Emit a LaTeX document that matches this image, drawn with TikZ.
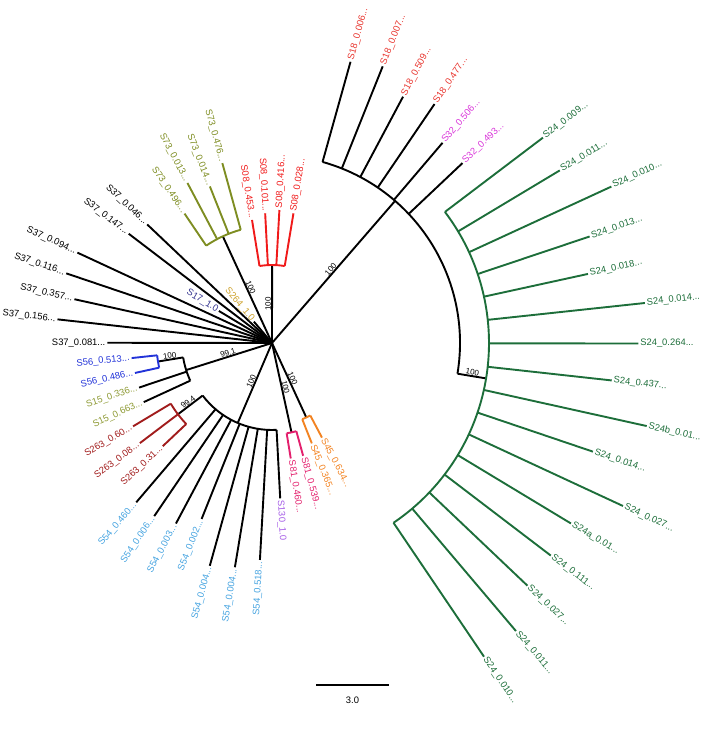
\documentclass[tikz,border=0pt]{standalone}
\usepackage{fontspec}
\setmainfont{Liberation Sans}
\definecolor{s18col}{HTML}{E8352E}
\definecolor{s08col}{HTML}{F01A1A}
\definecolor{s32col}{HTML}{D936D9}
\definecolor{s24col}{HTML}{1D6E3A}
\definecolor{s45col}{HTML}{F28322}
\definecolor{s81col}{HTML}{E3206D}
\definecolor{s130col}{HTML}{A45BE6}
\definecolor{s54col}{HTML}{45A3E0}
\definecolor{s263col}{HTML}{A11C1C}
\definecolor{s15col}{HTML}{8E9A35}
\definecolor{s56col}{HTML}{2233D8}
\definecolor{s17col}{HTML}{34348F}
\definecolor{s264col}{HTML}{CDA12A}
\definecolor{s73col}{HTML}{7E8D22}

\tikzset{
  branch/.style={line width=1.9pt},
  tiplab/.style={font=\fontsize{9.4}{11}\selectfont, inner sep=1.8pt},
  supplab/.style={font=\fontsize{8}{9.5}\selectfont, inner sep=0.8pt, anchor=south},
}

\newcommand{\trunc}{...}
% angle of the k-th leaf, 58 leaves round the circle
\newcommand{\angof}[2]{\pgfmathsetmacro{#1}{74.4-6.2069*#2}}

% leaf: index, base radius, tip radius, line colour, label colour, text
\newcommand{\treetip}[6]{%
  \pgfmathsetmacro{\tipang}{74.4-6.2069*#1}%
  \coordinate (b#1) at (\tipang:#2);
  \coordinate (t#1) at (\tipang:#3);
  \draw[branch, #4] (b#1) -- (t#1);
  \pgfmathsetmacro{\tipcos}{cos(\tipang)}%
  \ifdim\tipcos pt<0pt
    \node[tiplab, text=#5, anchor=east, rotate=\tipang+180] (lab#1) at (t#1) {#6};
  \else
    \node[tiplab, text=#5, anchor=west, rotate=\tipang] (lab#1) at (t#1) {#6};
  \fi
}

% support value: name, angle, radius, text
\newcommand{\supportlab}[4]{%
  \pgfmathsetmacro{\supcos}{cos(#2)}%
  \ifdim\supcos pt<0pt
    \node[supplab, rotate=#2+180] (#1) at (#2:#3) {#4};
  \else
    \node[supplab, rotate=#2] (#1) at (#2:#3) {#4};
  \fi
}

\begin{document}
\begin{tikzpicture}[x=1pt, y=1pt]
\useasboundingbox (-272,-388) rectangle (436,343);
\coordinate (root) at (0,0);

% --- Right clade: S18, S32, S24 ---
\coordinate (nR) at (49.1:188);
\draw[branch] (root) -- (nR);
\supportlab{sR}{49.1}{94}{100}
\angof\arcA{0}\angof\arcB{13.5}
\draw[branch] (\arcA:188) arc[start angle=\arcA, end angle=\arcB, radius=188pt];
\foreach \k/\r/\txt in {0/292/S18\_0.006\trunc, 1/298/S18\_0.007\trunc,
    2/279/S18\_0.509\trunc, 3/289/S18\_0.477\trunc}
  {\treetip{\k}{188}{\r}{black}{s18col}{\txt}}
\foreach \k/\r/\txt in {4/263/S32\_0.506\trunc, 5/262/S32\_0.493\trunc}
  {\treetip{\k}{188}{\r}{black}{s32col}{\txt}}

% S24 clade
\angof\nodeang{13.5}
\coordinate (nS24base) at (\nodeang:188);
\coordinate (nS24) at (\nodeang:217);
\draw[branch] (nS24base) -- (nS24);
\supportlab{sS24}{\nodeang}{202.5}{100}
\angof\arcA{6}\angof\arcB{21}
\draw[branch, s24col] (\arcA:217) arc[start angle=\arcA, end angle=\arcB, radius=217pt];
\foreach \k/\r/\txt in {6/340/S24\_0.009\trunc, 7/335.6/S24\_0.011\trunc,
    8/373.7/S24\_0.010\trunc, 9/335/S24\_0.013\trunc, 10/323.5/S24\_0.018\trunc,
    11/375/S24\_0.014\trunc, 12/366.3/S24\_0.264\trunc, 13/341.8/S24\_0.437\trunc,
    14/383.8/S24b\_0.01\trunc, 15/338.8/S24\_0.014\trunc, 16/387/S24\_0.027\trunc,
    17/349.2/S24a\_0.01\trunc, 18/350.6/S24\_0.111\trunc, 19/352.3/S24\_0.027\trunc,
    20/377.5/S24\_0.011\trunc, 21/378.6/S24\_0.010\trunc}
  {\treetip{\k}{217}{\r}{s24col}{s24col}{\txt}}

% --- S45 ---
\angof\nodeang{22.5}
\coordinate (nS45) at (\nodeang:82);
\draw[branch] (root) -- (nS45);
\supportlab{sS45}{\nodeang}{41}{100}
\angof\arcA{22}\angof\arcB{23}
\draw[branch, s45col] (\arcA:82) arc[start angle=\arcA, end angle=\arcB, radius=82pt];
\foreach \k/\r/\txt in {22/107/S45\_0.634\trunc, 23/108/S45\_0.365\trunc}
  {\treetip{\k}{82}{\r}{s45col}{s45col}{\txt}}

% --- S81 ---
\angof\nodeang{24.5}
\coordinate (nS81) at (\nodeang:91.5);
\draw[branch] (root) -- (nS81);
\supportlab{sS81}{\nodeang}{46}{100}
\angof\arcA{24}\angof\arcB{25}
\draw[branch, s81col] (\arcA:91.5) arc[start angle=\arcA, end angle=\arcB, radius=91.5pt];
\foreach \k/\r/\txt in {24/117/S81\_0.539\trunc, 25/117/S81\_0.460\trunc}
  {\treetip{\k}{91.5}{\r}{s81col}{s81col}{\txt}}

% --- S130, S54, S263 ---
\coordinate (nS54) at (-113.2:87);
\draw[branch] (root) -- (nS54);
\supportlab{sS54}{-113.2}{43.5}{100}
\angof\arcA{26}\angof\arcB{35}
\draw[branch] (\arcA:87) arc[start angle=\arcA, end angle=\arcB, radius=87pt];
\treetip{26}{87}{155.5}{black}{s130col}{S130\_1.0}
\foreach \k/\r/\txt in {27/217.3/S54\_0.518\trunc, 28/227.3/S54\_0.004\trunc,
    29/231.3/S54\_0.004\trunc, 30/189.5/S54\_0.002\trunc, 31/204.5/S54\_0.003\trunc,
    32/209.4/S54\_0.006\trunc, 33/209.3/S54\_0.460\trunc}
  {\treetip{\k}{87}{\r}{black}{s54col}{\txt}}

\angof\nodeang{35}
\coordinate (nS263base) at (\nodeang:87);
\coordinate (nS263) at (\nodeang:118);
\draw[branch] (nS263base) -- (nS263);
\supportlab{sS263}{\nodeang}{102.5}{99.4}
\angof\arcA{34}\angof\arcB{36}
\draw[branch, s263col] (\arcA:118) arc[start angle=\arcA, end angle=\arcB, radius=118pt];
\foreach \k/\r/\txt in {34/150.2/S263\_0.31\trunc, 35/165.8/S263\_0.08\trunc,
    36/162/S263\_0.60\trunc}
  {\treetip{\k}{118}{\r}{s263col}{s263col}{\txt}}

% --- S15, S56 ---
\coordinate (nS15) at (-162.5:90);
\draw[branch] (root) -- (nS15);
\supportlab{sS15}{-162.5}{45}{99.1}
\angof\arcA{37}\angof\arcB{39.5}
\draw[branch] (\arcA:90) arc[start angle=\arcA, end angle=\arcB, radius=90pt];
\foreach \k/\r/\txt in {37/141.2/S15\_0.663\trunc, 38/140.2/S15\_0.336\trunc}
  {\treetip{\k}{90}{\r}{black}{s15col}{\txt}}

\angof\nodeang{39.5}
\coordinate (nS56base) at (\nodeang:90);
\coordinate (nS56) at (\nodeang:115.5);
\draw[branch] (nS56base) -- (nS56);
\supportlab{sS56}{\nodeang}{103}{100}
\angof\arcA{39}\angof\arcB{40}
\draw[branch, s56col] (\arcA:115.5) arc[start angle=\arcA, end angle=\arcB, radius=115.5pt];
\foreach \k/\r/\txt in {39/140.3/S56\_0.486\trunc, 40/141.2/S56\_0.513\trunc}
  {\treetip{\k}{115.5}{\r}{s56col}{s56col}{\txt}}

% --- Leaves straight from the root ---
\foreach \k/\r/\txt in {41/164.7/S37\_0.081\trunc, 42/215.8/S37\_0.156\trunc,
    43/202.4/S37\_0.357\trunc, 44/217.2/S37\_0.116\trunc, 45/214.6/S37\_0.094\trunc,
    47/180.2/S37\_0.147\trunc, 48/172.1/S37\_0.046\trunc}
  {\treetip{\k}{0}{\r}{black}{black}{\txt}}
\treetip{46}{0}{62}{black}{s17col}{S17\_1.0}
\treetip{49}{0}{28}{black}{s264col}{S264\_1.0}

% --- S73 ---
\angof\nodeang{51.5}
\coordinate (nS73) at (\nodeang:117.5);
\draw[branch] (root) -- (nS73);
\supportlab{sS73}{\nodeang}{59}{100}
\angof\arcA{50}\angof\arcB{53}
\draw[branch, s73col] (\arcA:117.5) arc[start angle=\arcA, end angle=\arcB, radius=117.5pt];
\foreach \k/\r/\txt in {50/156.2/S73\_0.496\trunc, 51/181/S73\_0.013\trunc,
    52/168.4/S73\_0.014\trunc, 53/186.6/S73\_0.476\trunc}
  {\treetip{\k}{117.5}{\r}{s73col}{s73col}{\txt}}

% --- S08 ---
\angof\nodeang{55.5}
\coordinate (nS08) at (\nodeang:78);
\draw[branch] (root) -- (nS08);
\supportlab{sS08}{\nodeang}{39}{100}
\angof\arcA{54}\angof\arcB{57}
\draw[branch, s08col] (\arcA:78) arc[start angle=\arcA, end angle=\arcB, radius=78pt];
\foreach \k/\r/\txt in {54/124.7/S08\_0.453\trunc, 55/129.9/S08\_0.101\trunc,
    56/133.2/S08\_0.416\trunc, 57/131.4/S08\_0.028\trunc}
  {\treetip{\k}{78}{\r}{s08col}{s08col}{\txt}}

% --- Scale bar ---
\coordinate (sbA) at (44,-342);
\coordinate (sbB) at (117,-342);
\draw[branch] (sbA) -- (sbB) node[midway, below=11pt, font=\fontsize{9.4}{11}\selectfont, inner sep=0pt] (sblab) {3.0};

\end{tikzpicture}
\end{document}
